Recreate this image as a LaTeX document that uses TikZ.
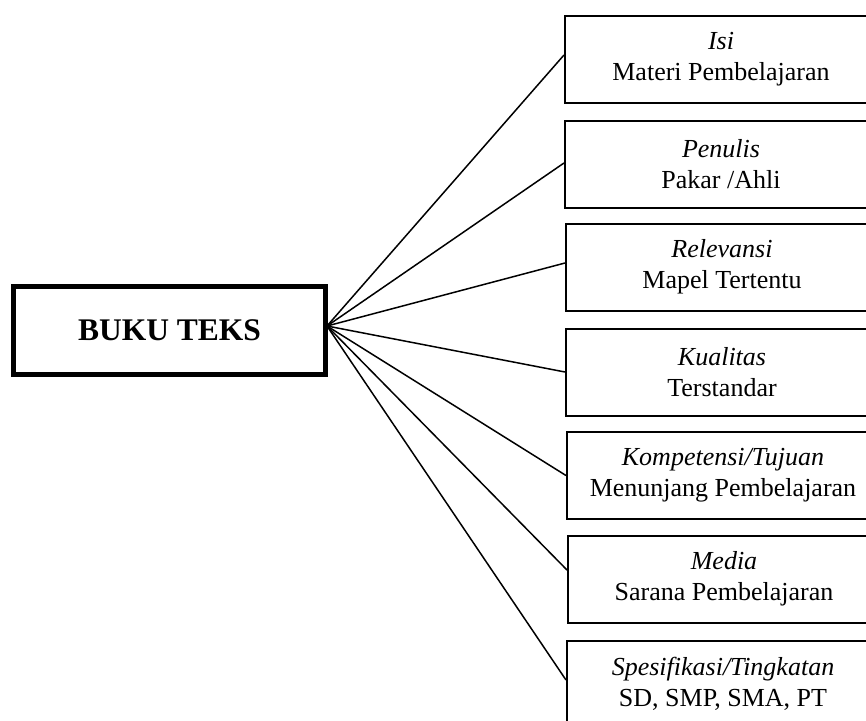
\documentclass[tikz,border=0pt]{standalone}
\usepackage{fontspec}
\setmainfont{Liberation Serif}
\usetikzlibrary{calc}
\begin{document}
\begin{tikzpicture}[x=1pt,y=-1pt,
  itembox/.style={draw, line width=2pt, minimum width=312pt, minimum height=87pt,
    align=center, inner sep=0pt, font=\fontsize{26}{31}\selectfont},
  mainbox/.style={draw, line width=5pt, minimum width=312pt, minimum height=88pt,
    inner sep=0pt, font=\fontsize{31.5}{36}\selectfont\bfseries},
  conn/.style={line width=1.5pt}]
\useasboundingbox (0,0) rectangle (866,720);
\node[mainbox] (main) at (169.5,330.5) {BUKU TEKS};
\coordinate (fan) at (327,326);
\node[itembox] (isi) at (721,59.5) {\textit{Isi}\\Materi Pembelajaran};
\node[itembox] (penulis) at (721,164.5) {\textit{Penulis}\\Pakar /Ahli};
\node[itembox] (relevansi) at (722,267) {\textit{Relevansi}\\Mapel Tertentu};
\node[itembox] (kualitas) at (722,372) {\textit{Kualitas}\\Terstandar};
\node[itembox] (kompetensi) at (723,475.5) {\textit{Kompetensi/Tujuan}\\Menunjang Pembelajaran};
\node[itembox] (media) at (724,579) {\textit{Media}\\Sarana Pembelajaran};
\node[itembox] (spesifikasi) at (723,684) {\textit{Spesifikasi/Tingkatan}\\SD, SMP, SMA, PT};
\draw[conn] (fan) -- ($(isi.west)+(0,-4.5)$);
\draw[conn] (fan) -- ($(penulis.west)+(0,-1.5)$);
\draw[conn] (fan) -- ($(relevansi.west)+(0,-4)$);
\draw[conn] (fan) -- (kualitas.west);
\draw[conn] (fan) -- (kompetensi.west);
\draw[conn] (fan) -- ($(media.west)+(0,-9)$);
\draw[conn] (fan) -- ($(spesifikasi.west)+(0,-4)$);
\end{tikzpicture}
\end{document}
